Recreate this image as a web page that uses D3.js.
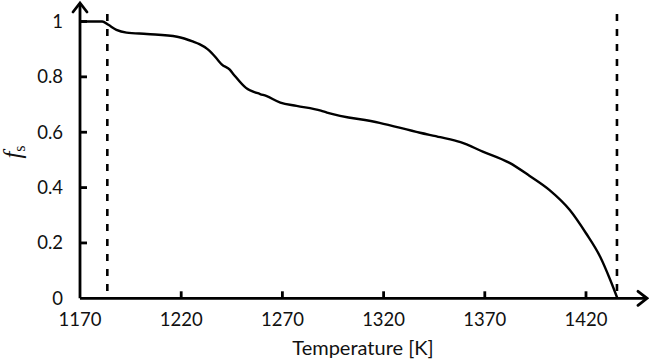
<!DOCTYPE html>
<html><head><meta charset="utf-8">
<script src="https://cdn.jsdelivr.net/npm/d3@7"></script>
<style>
html,body{margin:0;padding:0;background:#fff;}
svg{display:block;}
text{font-family:Lato,"Open Sans",sans-serif;fill:#111;}
</style></head>
<body>
<svg id="c" width="649" height="359"></svg>
<script>
const temperature = [1170, 1181, 1184, 1188, 1193, 1203, 1218, 1226, 1229, 1233, 1235, 1238, 1240, 1244, 1246, 1252, 1259, 1262, 1269, 1277, 1289, 1292, 1318, 1338, 1348, 1358, 1369, 1382, 1392, 1402, 1412, 1420, 1427, 1432, 1435.5];
const fs = [1, 1, 0.988, 0.970, 0.960, 0.955, 0.945, 0.927, 0.918, 0.900, 0.887, 0.862, 0.845, 0.826, 0.808, 0.760, 0.738, 0.731, 0.707, 0.695, 0.678, 0.671, 0.634, 0.598, 0.582, 0.564, 0.530, 0.490, 0.443, 0.391, 0.319, 0.235, 0.150, 0.066, 0];
const xTicks = [1170, 1220, 1270, 1320, 1370, 1420];
const yTicks = [0, 0.2, 0.4, 0.6, 0.8, 1];
const markers = [1183.5, 1435.3];

const svg = d3.select("#c");
const x = d3.scaleLinear().domain([1170, 1420]).range([80, 586]);
const y = d3.scaleLinear().domain([0, 1]).range([298.3, 21.5]);
const x0 = x(1170), y0 = y(0);

// dashed markers
svg.selectAll("line.mk").data(markers).join("line")
  .attr("x1", d => x(d)).attr("x2", d => x(d))
  .attr("y1", 14).attr("y2", y0)
  .attr("stroke", "#000").attr("stroke-width", 2.6).attr("stroke-dasharray", "7,8");

// curve
const pts = temperature.map((t, i) => [t, fs[i]]);
svg.append("path").datum(pts)
  .attr("fill", "none").attr("stroke", "#000").attr("stroke-width", 2.4)
  .attr("stroke-linejoin", "round")
  .attr("d", d3.line().x(d => x(d[0])).y(d => y(d[1])).curve(d3.curveMonotoneX));

// axes lines
const ax = svg.append("g").attr("stroke", "#000").attr("stroke-width", 2.8).attr("fill", "none");
ax.append("line").attr("x1", x0).attr("x2", 647).attr("y1", y0).attr("y2", y0);
ax.append("line").attr("x1", x0).attr("x2", x0).attr("y1", y0).attr("y2", 3);
ax.append("path").attr("d", `M${x0-7},12 L${x0},3 L${x0+7},12`).attr("stroke-linecap", "round");
ax.append("path").attr("d", `M638,${y0-7} L647,${y0} L638,${y0+7}`).attr("stroke-linecap", "round");

// ticks
ax.selectAll("line.xt").data(xTicks.slice(1)).join("line")
  .attr("x1", d => x(d)).attr("x2", d => x(d)).attr("y1", y0).attr("y2", y0 - 7);
ax.selectAll("line.yt").data(yTicks.slice(1)).join("line")
  .attr("x1", x0).attr("x2", x0 + 7).attr("y1", d => y(d)).attr("y2", d => y(d));

// tick labels
const fmt = d => (d === 0 || d === 1) ? String(d) : d.toFixed(1);
svg.selectAll("text.yl").data(yTicks).join("text")
  .attr("x", 63).attr("y", d => y(d)).attr("dy", "0.35em")
  .attr("text-anchor", "end").attr("font-size", 18.5).text(fmt);
svg.selectAll("text.xl").data(xTicks).join("text")
  .attr("x", d => x(d)).attr("y", 320).attr("dy", "0.35em")
  .attr("text-anchor", "middle").attr("font-size", 18.5).text(d => d);

// axis titles
svg.append("text").attr("x", 363).attr("y", 348).attr("dy", "0.35em")
  .attr("text-anchor", "middle").attr("font-size", 20).text("Temperature [K]");
const yl = svg.append("text").attr("transform", "translate(21,152) rotate(-90)")
  .attr("text-anchor", "middle").attr("font-size", 25)
  .style("font-family", "'Liberation Serif','DejaVu Serif',serif");
yl.append("tspan").attr("font-style", "italic").text("f");
yl.append("tspan").attr("font-size", 16).attr("dy", 4).text("s");
</script>
</body></html>
